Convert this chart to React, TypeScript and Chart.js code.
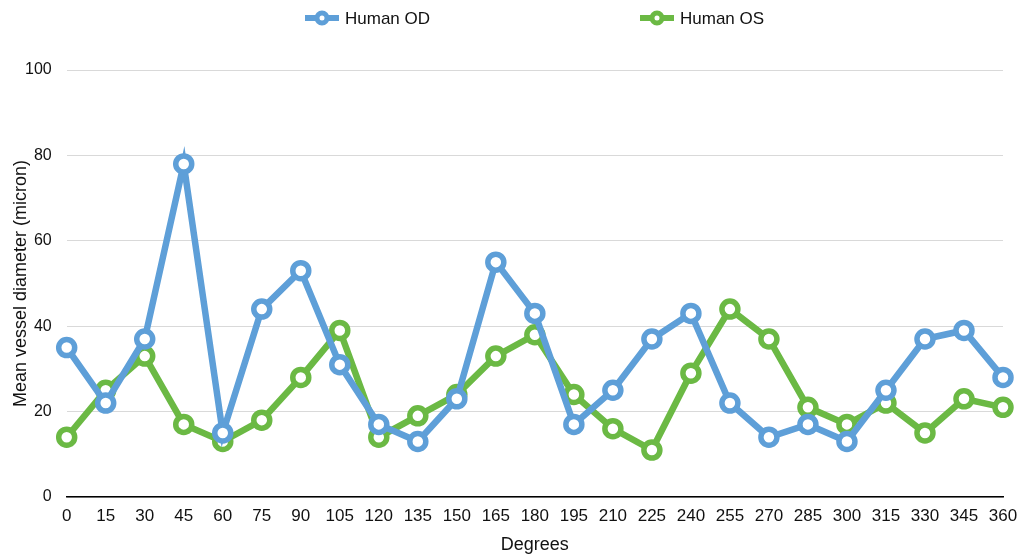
import React, { useEffect, useRef } from "react";
import { Chart, registerables } from "chart.js";

Chart.register(...registerables);

const degrees = ["0", "15", "30", "45", "60", "75", "90", "105", "120", "135", "150", "165", "180", "195", "210", "225", "240", "255", "270", "285", "300", "315", "330", "345", "360"];
const humanOD = [35, 22, 37, 78, 15, 44, 53, 31, 17, 13, 23, 55, 43, 17, 25, 37, 43, 22, 14, 17, 13, 25, 37, 39, 28];
const humanOS = [14, 25, 33, 17, 13, 18, 28, 39, 14, 19, 24, 33, 38, 24, 16, 11, 29, 44, 37, 21, 17, 22, 15, 23, 21];
const yTicks = [0, 20, 40, 60, 80, 100];

const BLUE = "#5E9FD8";
const GREEN = "#6BB944";
const FONT = "'Liberation Sans', Arial, Helvetica, sans-serif";

const legendPlugin = {
  id: "customLegend",
  afterDraw(chart: any) {
    const ctx = chart.ctx;
    const items = chart.data.datasets.map((d: any) => ({ text: d.label, color: d.borderColor }));
    const cx = chart.width / 2;
    const y = 18;
    const starts = [cx - 204.5, cx + 130.5];
    ctx.save();
    ctx.font = "17px " + FONT;
    ctx.textBaseline = "middle";
    ctx.textAlign = "left";
    items.forEach((it: any, i: number) => {
      const x0 = starts[i];
      ctx.strokeStyle = it.color;
      ctx.lineWidth = 6;
      ctx.beginPath();
      ctx.moveTo(x0, y);
      ctx.lineTo(x0 + 34, y);
      ctx.stroke();
      ctx.beginPath();
      ctx.arc(x0 + 17, y, 5, 0, Math.PI * 2);
      ctx.fillStyle = "#fff";
      ctx.lineWidth = 5;
      ctx.fill();
      ctx.stroke();
      ctx.fillStyle = "#111";
      ctx.fillText(it.text, x0 + 40, y + 1);
    });
    ctx.restore();
  },
};

export default function App() {
  const ref = useRef<HTMLCanvasElement | null>(null);
  useEffect(() => {
    if (!ref.current) return;
    const mk = (label: string, data: number[], color: string) => ({
      label,
      data,
      borderColor: color,
      backgroundColor: "#ffffff",
      borderWidth: 6.5,
      pointRadius: 8,
      pointBorderWidth: 5.5,
      pointBackgroundColor: "#ffffff",
      pointBorderColor: color,
      tension: 0,
    });
    const chart = new Chart(ref.current, {
      type: "line",
      data: {
        labels: degrees,
        datasets: [mk("Human OD", humanOD, BLUE), mk("Human OS", humanOS, GREEN)],
      },
      plugins: [legendPlugin],
      options: {
        animation: false,
        responsive: false,
        maintainAspectRatio: false,
        layout: { autoPadding: false, padding: { top: 70, right: 0, left: 8, bottom: 0 } },
        plugins: {
          legend: { display: false },
          tooltip: { enabled: false },
        },
        scales: {
          x: {
            offset: false,
            afterFit: (scale: any) => {
              scale.paddingRight = 16;
            },
            grid: { display: false, drawTicks: false },
            border: { display: true, color: "#000", width: 1.5 },
            ticks: {
              color: "#111",
              font: { family: FONT, size: 17 },
              padding: 9,
              maxRotation: 0,
              autoSkip: false,
            },
            title: {
              display: true,
              text: "Degrees",
              color: "#111",
              font: { family: FONT, size: 18 },
              padding: { top: -1, bottom: 0 },
            },
          },
          y: {
            min: 0,
            max: 100,
            afterBuildTicks: (axis: any) => {
              axis.ticks = yTicks.map((v) => ({ value: v }));
            },
            grid: { color: "#d9d9d9", lineWidth: 1, drawTicks: false },
            border: { display: false },
            ticks: {
              color: "#111",
              font: { family: FONT, size: 16 },
              padding: 15,
            },
            title: {
              display: true,
              text: "Mean vessel diameter (micron)",
              color: "#111",
              font: { family: FONT, size: 18 },
              padding: { top: 2, bottom: -21.6 },
            },
          },
        },
      },
    });
    return () => chart.destroy();
  }, []);
  return (
    <div style={{ position: "fixed", left: 0, top: 0, width: 1019, height: 556, background: "#fff" }}>
      <canvas ref={ref} width={1019} height={556} style={{ display: "block" }} />
    </div>
  );
}
